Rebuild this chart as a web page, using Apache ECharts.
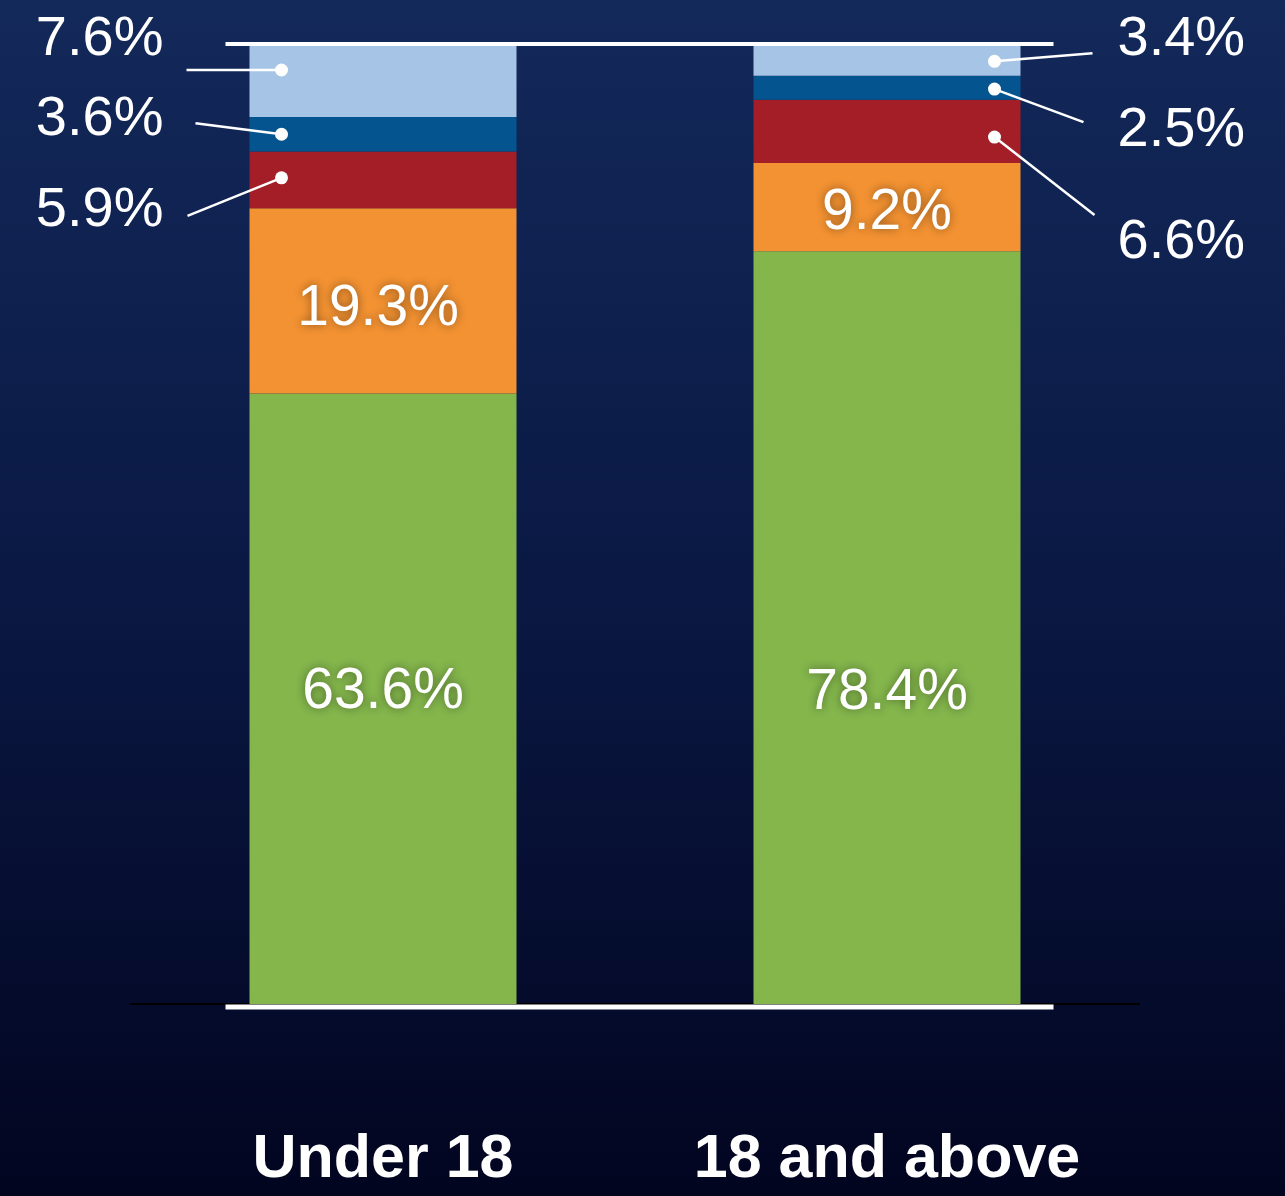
<!DOCTYPE html>
<html>
<head>
<meta charset="utf-8">
<script src="https://cdn.jsdelivr.net/npm/echarts@6/dist/echarts.min.js"></script>
<style>
html,body{margin:0;padding:0;width:1285px;height:1196px;overflow:hidden;}
#chart{width:1285px;height:1196px;}
</style>
</head>
<body>
<div id="chart"></div>
<script>
// ---- data ----
const categories = ['Under 18', '18 and above'];
const segGreen = [63.6, 78.4];
const segOrange = [19.3, 9.2];
const segRed = [5.9, 6.6];
const segBlue = [3.6, 2.5];
const segLightBlue = [7.6, 3.4];

// ---- layout (pixel offsets, not data) ----
// callout: [dotDy, lineEndDx(from dot), lineEndDy(from segment mid), textDx(from dot), textDy(from segment mid)]
const calloutLayout = {
  0: { light: [-10.5, -95, -10.5, -118, -41], blue: [0, -86, -11, -118, -14.5], red: [-2, -94, 36, -118, 30.5] },
  1: { light: [2, 98, -6, 123, -20], blue: [1.4, 89, 34.4, 123, 42.9], red: [5.7, 100, 83.7, 123, 111.2] }
};
const greenLabelOffset = [[0, -6], [0, 66]];
const orangeLabelOffset = [[-5, 8], [0, 6]];

const colors = {
  green: '#84b64c', orange: '#f39232', red: '#a31e27', blue: '#03548f', light: '#a6c4e6'
};
const FONT = '"Liberation Sans", Arial, Helvetica, sans-serif';
const BAR_W = 267;

const innerLabel = {
  show: true, position: 'inside', color: '#fff', fontSize: 57, fontFamily: FONT,
  textShadowColor: 'rgba(0,0,0,0.45)', textShadowBlur: 10,
  formatter: p => p.value.toFixed(1) + '%'
};

function barSeries(name, values, color, label) {
  return {
    name, type: 'bar', stack: 'total', barWidth: BAR_W, data: values,
    itemStyle: { color }, label: label || { show: false }, z: 2
  };
}
function withOffsets(values, offsets) {
  return values.map((v, i) => ({ value: v, label: { offset: offsets[i] } }));
}

// build callout data from the series arrays
const calloutData = [];
categories.forEach((c, i) => {
  const base = segGreen[i] + segOrange[i];
  const parts = [
    ['red', base, segRed[i]],
    ['blue', base + segRed[i], segBlue[i]],
    ['light', base + segRed[i] + segBlue[i], segLightBlue[i]]
  ];
  parts.forEach(([key, start, v]) => {
    calloutData.push({ value: [i, start + v / 2, v], key });
  });
});

const chart = echarts.init(document.getElementById('chart'));
chart.setOption({
  backgroundColor: {
    type: 'linear', x: 0, y: 0, x2: 0, y2: 1,
    colorStops: [
      { offset: 0, color: '#13295a' },
      { offset: 0.5, color: '#0a1843' },
      { offset: 1, color: '#020520' }
    ]
  },
  animation: false,
  grid: { left: 131, right: 146, top: 44, bottom: 192 },
  xAxis: {
    type: 'category', data: categories,
    axisLine: { show: true, lineStyle: { color: '#000', width: 2 } },
    axisTick: { show: false },
    axisLabel: {
      color: '#fff', fontSize: 61, fontWeight: 'bold', fontFamily: FONT,
      margin: 126, lineHeight: 61
    }
  },
  yAxis: { type: 'value', min: 0, max: 100, show: false, splitLine: { show: false } },
  series: [
    barSeries('Green', withOffsets(segGreen, greenLabelOffset), colors.green, innerLabel),
    barSeries('Orange', withOffsets(segOrange, orangeLabelOffset), colors.orange, innerLabel),
    barSeries('Red', segRed, colors.red),
    barSeries('Blue', segBlue, colors.blue),
    barSeries('Light blue', segLightBlue, colors.light),
    {
      name: 'frame', type: 'custom', z: 5, silent: true,
      data: [[0, 0]],
      renderItem: (params, api) => {
        const t0 = api.coord([0, 100]);
        const t1 = api.coord([1, 100]);
        const b0 = api.coord([0, 0]);
        const half = BAR_W / 2;
        const x0 = t0[0] - half - 24;
        const x1 = t1[0] + half + 33;
        return {
          type: 'group',
          children: [
            { type: 'rect', shape: { x: x0, y: t0[1] - 2, width: x1 - x0, height: 4 }, style: { fill: '#fff' } },
            { type: 'rect', shape: { x: x0, y: b0[1] + 0.5, width: x1 - x0, height: 5 }, style: { fill: '#fff' } }
          ]
        };
      }
    },
    {
      name: 'callouts', type: 'custom', z: 6, silent: true,
      data: calloutData,
      encode: { x: 0, y: 1 },
      renderItem: (params, api) => {
        const i = api.value(0);
        const item = calloutData[params.dataIndex];
        const p = api.coord([i, api.value(1)]);
        const half = BAR_W / 2;
        const dx = i === 0 ? (-half + 32) : (half - 26);
        const L = calloutLayout[i][item.key];
        const cx = p[0] + dx, cy = p[1] + L[0];
        return {
          type: 'group',
          children: [
            { type: 'line', shape: { x1: cx, y1: cy, x2: cx + L[1], y2: p[1] + L[2] },
              style: { stroke: '#fff', lineWidth: 2.5 } },
            { type: 'circle', shape: { cx, cy, r: 6.5 }, style: { fill: '#fff' } },
            { type: 'text', x: cx + L[3], y: p[1] + L[4],
              style: {
                text: api.value(2).toFixed(1) + '%', fill: '#fff', fontSize: 56, fontFamily: FONT,
                align: i === 0 ? 'right' : 'left', verticalAlign: 'middle'
              } }
          ]
        };
      }
    }
  ]
});
</script>
</body>
</html>
